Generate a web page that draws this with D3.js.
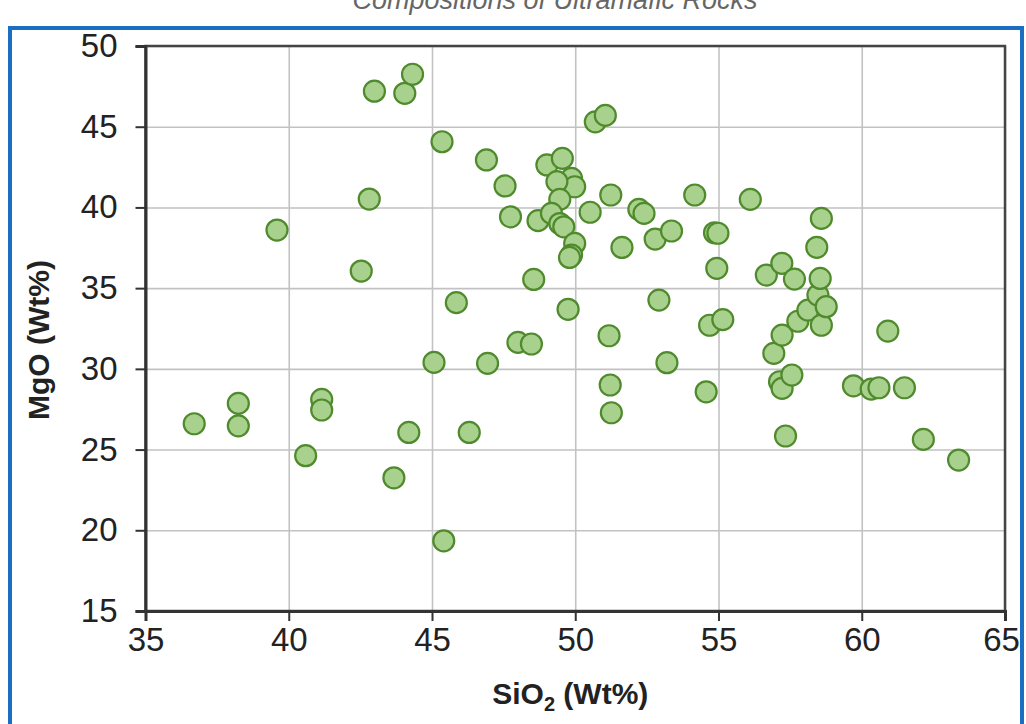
<!DOCTYPE html>
<html>

<head>
  <title>SiO2 vs MgO</title>
  <style>
    body { margin: 0; background: #fff; }
    text { font-family: "Liberation Sans", Arial, sans-serif; }
  </style>
</head>

<body>
  <svg id="main" width="1026" height="724"></svg>

  <script src="https://cdn.jsdelivr.net/npm/d3@7.0.1/dist/d3.min.js"></script>
  <script>
    // SiO2 (Wt%)
    const sio2 = [
      36.7, 38.24, 38.24, 39.59, 40.59, 41.15, 41.15, 42.53, 42.81, 42.99,
      43.67, 44.05, 44.32, 44.19, 45.07, 45.35, 45.41, 45.85, 46.3, 46.9,
      46.94, 47.55, 47.74, 48.0, 48.47, 48.55, 48.7, 49.01, 49.55, 49.87,
      49.98, 49.36, 49.46, 49.17, 49.46, 49.6, 49.98, 49.87, 49.8, 49.75,
      50.52, 50.7, 51.05, 51.24, 51.18, 51.22, 51.26, 51.63, 52.22, 52.4,
      52.79, 52.92, 53.2, 53.36, 54.17, 54.57, 54.69, 54.86, 54.98, 54.94,
      55.15, 56.11, 56.67, 56.93, 57.21, 57.13, 57.22, 57.22, 57.34, 57.56,
      57.65, 57.77, 58.12, 58.43, 58.47, 58.55, 58.59, 58.59, 58.76, 59.71,
      60.33, 60.6, 60.91, 61.49, 62.15, 63.38
    ]
    // MgO (Wt%)
    const mgo = [
      26.6, 27.86, 26.47, 38.6, 24.62, 28.11, 27.45, 36.06, 40.52, 47.2,
      23.25, 47.07, 48.25, 26.06, 30.4, 44.07, 19.35, 34.1, 26.06, 42.94,
      30.34, 41.33, 39.42, 31.64, 31.54, 35.54, 39.18, 42.63, 43.04, 41.8,
      41.28, 41.6, 40.5, 39.63, 39.0, 38.8, 37.77, 37.05, 36.9, 33.69,
      39.7, 45.3, 45.7, 40.77, 32.05, 29.0, 27.28, 37.52, 39.88, 39.63,
      38.04, 34.26, 30.38, 38.54, 40.77, 28.58, 32.7, 38.43, 38.4, 36.23,
      33.05, 40.5, 35.81, 30.96, 36.54, 29.2, 28.79, 32.09, 25.84, 29.62,
      35.56, 32.95, 33.64, 37.53, 34.57, 35.6, 39.32, 32.7, 33.85, 28.95,
      28.75, 28.83, 32.34, 28.83, 25.63, 24.35
    ]
    const xTicks = [35, 40, 45, 50, 55, 60, 65]
    const yTicks = [15, 20, 25, 30, 35, 40, 45, 50]

    const data = sio2.map((x, i) => ({ xValue: x, yValue: mgo[i] }))

    const svg = d3.select('#main')
    const margin = { top: 46, right: 21, bottom: 113, left: 145.5 }
    const width = +svg.attr('width')
    const height = +svg.attr('height')
    const innerWidth = width - margin.left - margin.right
    const innerHeight = height - margin.top - margin.bottom

    // cut-off title above the frame
    svg.append('text')
      .attr('x', 555).attr('y', 9)
      .attr('text-anchor', 'middle')
      .attr('font-size', 27).attr('font-style', 'italic')
      .attr('fill', '#666')
      .text('Compositions of Ultramafic Rocks')

    // blue frame
    svg.append('rect')
      .attr('x', 10).attr('y', 28)
      .attr('width', 1012).attr('height', 720)
      .attr('fill', '#fff')
      .attr('stroke', '#1b6ec2').attr('stroke-width', 4)

    const g = svg.append('g')
      .attr('transform', `translate(${margin.left}, ${margin.top})`)

    const xScale = d3.scaleLinear().domain([35, 65]).range([0, innerWidth])
    const yScale = d3.scaleLinear().domain([15, 50]).range([innerHeight, 0])

    // grid
    g.append('g').call(d3.axisBottom(xScale).tickValues(xTicks)
        .tickSize(-innerHeight).tickFormat(''))
      .attr('transform', `translate(0, ${innerHeight})`)
      .call(s => s.select('.domain').remove())
      .call(s => s.selectAll('text').remove())
      .selectAll('line').attr('stroke', '#c2c2c2').attr('stroke-width', 1.6)
    g.append('g').call(d3.axisLeft(yScale).tickValues(yTicks)
        .tickSize(-innerWidth).tickFormat(''))
      .call(s => s.select('.domain').remove())
      .call(s => s.selectAll('text').remove())
      .selectAll('line').attr('stroke', '#c2c2c2').attr('stroke-width', 1.6)

    // frame top / right
    g.append('rect')
      .attr('width', innerWidth).attr('height', innerHeight)
      .attr('fill', 'none').attr('stroke', '#444').attr('stroke-width', 2.5)

    // axes
    const yAxis = d3.axisLeft(yScale).tickValues(yTicks).tickSizeOuter(0).tickSize(10).tickPadding(18)
    const xAxis = d3.axisBottom(xScale).tickValues(xTicks).tickSizeOuter(0).tickSize(10).tickPadding(7)

    const yG = g.append('g').call(yAxis)
    const xG = g.append('g').call(xAxis).attr('transform', `translate(0, ${innerHeight})`)
    for (const a of [xG, yG]) {
      a.select('.domain').attr('stroke', '#333').attr('stroke-width', 3)
      a.selectAll('.tick line').attr('stroke', '#333').attr('stroke-width', 2)
      a.selectAll('.tick text')
        .attr('font-size', 33).attr('fill', '#222')
        .attr('font-family', '"Liberation Sans", Arial, sans-serif')
    }
    // last label sits just inside the blue frame
    xG.selectAll('.tick text').filter(d => d === 65).attr('dx', -4)

    // points
    g.selectAll('.scatter').data(data)
      .join('circle')
      .attr('class', 'scatter')
      .attr('cx', d => xScale(d.xValue))
      .attr('cy', d => yScale(d.yValue))
      .attr('r', 10.5)
      .attr('fill', '#a9d18e')
      .attr('stroke', '#4f8a2c')
      .attr('stroke-width', 2.2)

    // axis titles
    const xt = g.append('text')
      .attr('x', innerWidth / 2 - 5).attr('y', innerHeight + 93)
      .attr('text-anchor', 'middle')
      .attr('font-size', 30).attr('font-weight', 'bold').attr('fill', '#222')
    xt.append('tspan').text('SiO')
    xt.append('tspan').text('2').attr('font-size', 20).attr('dy', 7)
    xt.append('tspan').text(' (Wt%)').attr('dy', -7)

    g.append('text')
      .attr('transform', `translate(${49 - margin.left}, ${340 - margin.top}) rotate(-90)`)
      .attr('text-anchor', 'middle')
      .attr('font-size', 30).attr('font-weight', 'bold').attr('fill', '#222')
      .text('MgO (Wt%)')
  </script>
</body>

</html>
